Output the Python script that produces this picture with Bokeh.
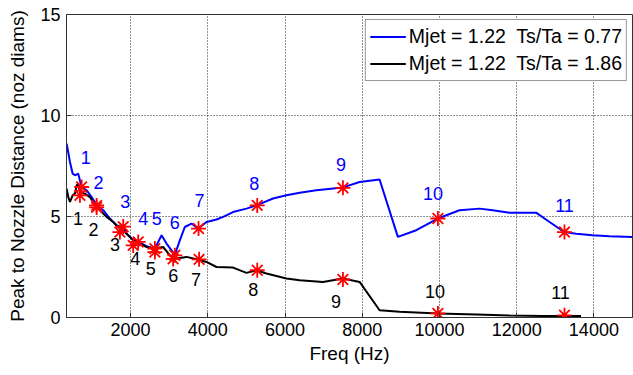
from bokeh.plotting import figure
from bokeh.models import Range1d, FixedTicker, ColumnDataSource, Legend, LegendItem
from bokeh.core.properties import value
from bokeh.embed import file_html
from bokeh.resources import INLINE

# ---- data ----
blue_freq = [344, 430, 500, 559, 644, 688, 732, 862, 991, 1120, 1291, 1464, 1638, 1809, 1897,
             2026, 2197, 2414, 2629, 2802, 2931, 3146, 3275, 3405, 3578, 3749, 3966, 4225,
             4396, 4654, 5001, 5260, 5689, 6036, 6380, 6812, 7500, 7932, 8449, 8923, 9399,
             9958, 10519, 11036, 11380, 11817, 12503, 12851, 13238, 13541, 13967, 14400, 15000]
blue_dist = [8.61, 7.70, 7.12, 7.04, 7.12, 6.78, 6.46, 6.30, 5.96, 5.55, 5.31, 4.90, 4.56, 4.48,
             4.15, 3.91, 3.74, 3.53, 3.41, 4.07, 3.66, 3.10, 3.82, 4.48, 4.65, 4.40, 4.73, 4.85,
             4.98, 5.22, 5.39, 5.55, 5.89, 6.05, 6.18, 6.30, 6.44, 6.71, 6.83, 3.99, 4.32,
             4.90, 5.31, 5.39, 5.31, 5.19, 5.19, 4.73, 4.23, 4.15, 4.07, 4.02, 3.99]

black_freq = [344, 386, 430, 500, 559, 603, 644, 688, 817, 947, 1076, 1206, 1379, 1550, 1679,
              1897, 2067, 2241, 2414, 2585, 2843, 3017, 3190, 3449, 3707, 3966, 4225, 4654,
              5001, 5260, 5518, 6036, 6380, 6983, 7500, 7932, 8449, 8966, 9958, 10951, 11814,
              12674, 13667]
black_dist = [6.38, 5.96, 5.72, 6.05, 6.13, 6.54, 6.63, 6.21, 6.13, 5.96, 5.55, 5.31, 4.98, 4.73,
              4.48, 4.15, 3.82, 3.66, 3.49, 3.41, 3.49, 3.08, 2.92, 3.00, 2.88, 2.75, 2.50, 2.47,
              2.21, 2.34, 2.18, 1.93, 1.84, 1.76, 1.93, 1.76, 0.36, 0.28, 0.20, 0.15, 0.10,
              0.08, 0.08]

peak_labels = ["1", "2", "3", "4", "5", "6", "7", "8", "9", "10", "11"]
blue_peak_freq = [732, 1120, 1809, 2197, 2629, 3146, 3760, 5280, 7500, 9960, 13238]
blue_peak_dist = [6.46, 5.55, 4.50, 3.74, 3.41, 3.08, 4.40, 5.55, 6.42, 4.90, 4.23]
black_peak_freq = [688, 1120, 1723, 2067, 2629, 3102, 3775, 5280, 7500, 9960, 13238]
black_peak_dist = [6.05, 5.45, 4.23, 3.57, 3.24, 2.90, 2.88, 2.34, 1.88, 0.20, 0.11]

x_ticks = [2000, 4000, 6000, 8000, 10000, 12000, 14000]
y_ticks = [0, 5, 10, 15]
series_names = ["Mjet = 1.22  Ts/Ta = 0.77", "Mjet = 1.22  Ts/Ta = 1.86"]

# label pixel offsets (style)
blue_dx = [4, 2, 2, 5, 2, 0, 1, -3, -2, -5, 0]
blue_dy = [-30, -23, -25, -23, -30, -33, -28, -22, -23, -25, -27]
black_dx = [-2, -3, -5, 2, -4, 0, -3, -4, -7, -3, -4]
black_dy = [23, 22, 12, 13, 16, 17, 20, 19, 22, -22, -23]

FONT = "Liberation Sans"
BLUE = "#0000ff"
AXC = "#333333"

p = figure(frame_width=566, frame_height=303, output_backend="svg", toolbar_location=None,
           x_range=Range1d(340, 15000), y_range=Range1d(0, 15),
           min_border_left=66, min_border_right=1, min_border_top=14, min_border_bottom=58,
           background_fill_color="white", border_fill_color="white")

p.outline_line_color = AXC
p.outline_line_width = 1

for ax in (p.xaxis[0], p.yaxis[0]):
    ax.major_label_text_font = FONT
    ax.major_label_text_font_size = "18px"
    ax.major_label_text_color = "black"
    ax.axis_label_text_font = FONT
    ax.axis_label_text_font_size = "19px"
    ax.axis_label_text_font_style = "normal"
    ax.axis_label_text_color = "black"
    ax.major_tick_in = 5
    ax.major_tick_out = 0
    ax.minor_tick_line_color = None
    ax.axis_line_color = AXC
    ax.major_tick_line_color = AXC

p.xaxis[0].ticker = FixedTicker(ticks=x_ticks)
p.yaxis[0].ticker = FixedTicker(ticks=y_ticks)
p.xaxis[0].axis_label = "Freq (Hz)"
p.yaxis[0].axis_label = "Peak to Nozzle Distance (noz diams)"
p.xaxis[0].major_label_standoff = 5
p.xaxis[0].axis_label_standoff = 4
p.yaxis[0].major_label_standoff = 6
p.yaxis[0].axis_label_standoff = 9

for g in (p.xgrid[0], p.ygrid[0]):
    g.grid_line_color = "#222222"
    g.grid_line_dash = "1 2"
    g.grid_line_width = 1
p.xgrid[0].ticker = FixedTicker(ticks=x_ticks)
p.ygrid[0].ticker = FixedTicker(ticks=[5, 10])

r_blue = p.line(blue_freq, blue_dist, line_color=BLUE, line_width=2)
r_black = p.line(black_freq, black_dist, line_color="black", line_width=2)

p.scatter(blue_peak_freq, blue_peak_dist, marker="asterisk", size=15,
          line_color="red", line_width=1.8)
p.scatter(black_peak_freq, black_peak_dist, marker="asterisk", size=15,
          line_color="red", line_width=1.8)

src_b = ColumnDataSource(dict(x=blue_peak_freq, y=blue_peak_dist, t=peak_labels,
                              dx=blue_dx, dy=blue_dy))
src_k = ColumnDataSource(dict(x=black_peak_freq, y=black_peak_dist, t=peak_labels,
                              dx=black_dx, dy=black_dy))
p.text(x="x", y="y", text="t", x_offset="dx", y_offset="dy", source=src_b,
       text_color=BLUE, text_font=value(FONT), text_font_size="18px",
       text_align="center", text_baseline="middle")
p.text(x="x", y="y", text="t", x_offset="dx", y_offset="dy", source=src_k,
       text_color="black", text_font=value(FONT), text_font_size="18px",
       text_align="center", text_baseline="middle")

legend = Legend(items=[LegendItem(label=series_names[0], renderers=[r_blue]),
                       LegendItem(label=series_names[1], renderers=[r_black])],
                location="top_right")
legend.label_text_font = FONT
legend.label_text_font_size = "19.5px"
legend.label_text_color = "black"
legend.border_line_color = AXC
legend.border_line_width = 1
legend.background_fill_color = "white"
legend.background_fill_alpha = 1
legend.glyph_width = 36
legend.glyph_height = 25
legend.label_height = 25
legend.label_standoff = 3
legend.spacing = 2
legend.padding = 4
legend.margin = 5
p.add_layout(legend)

open("out.html", "w").write(file_html(p, INLINE))
